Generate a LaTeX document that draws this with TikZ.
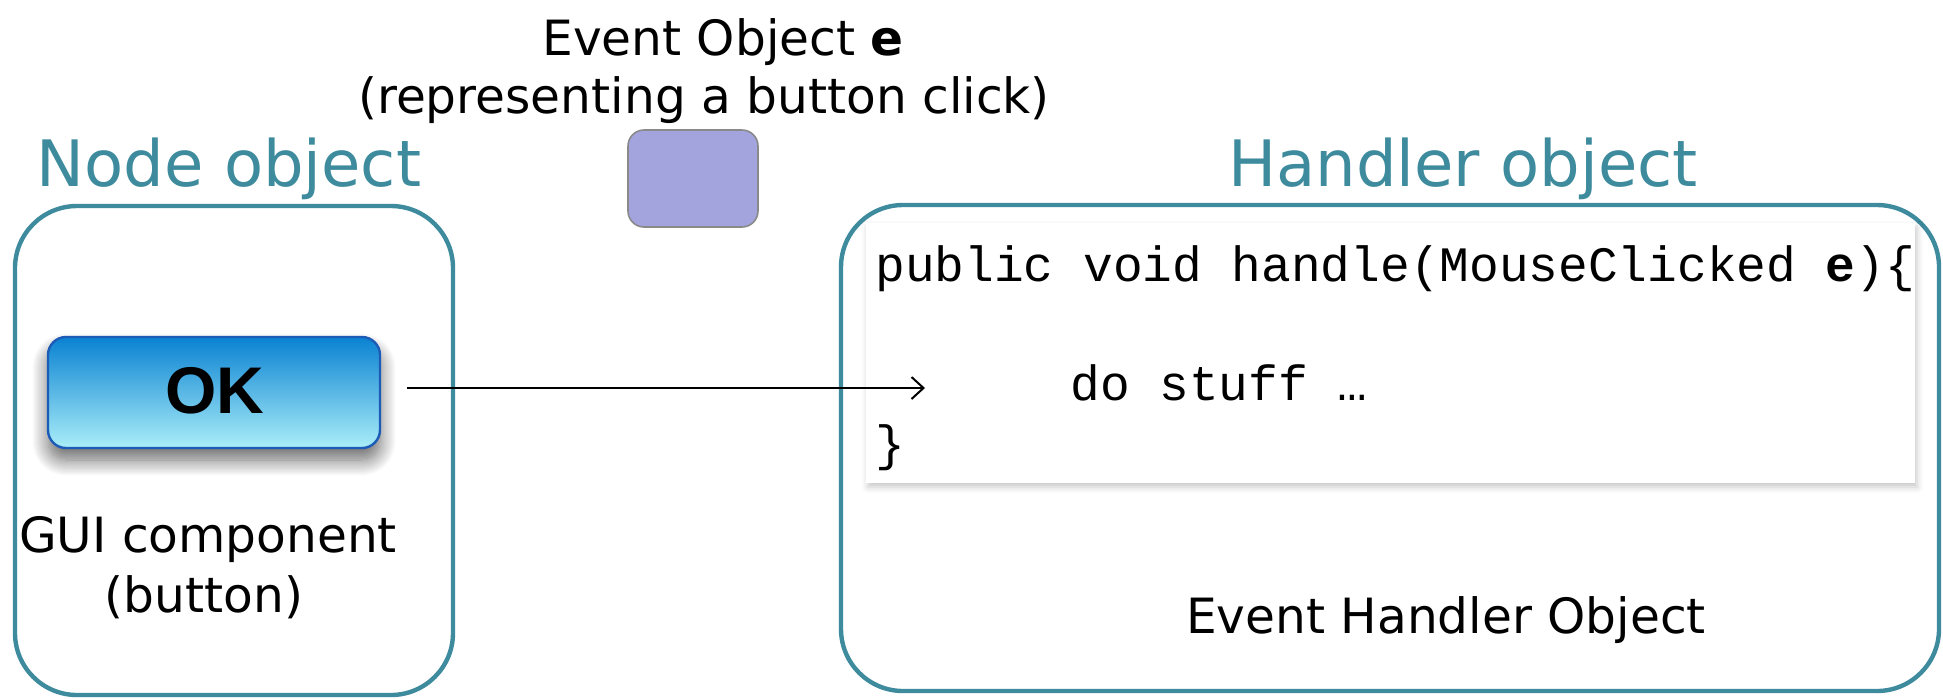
\documentclass[tikz,border=0pt]{standalone}
\usepackage{fontspec}
\setmainfont{DejaVu Sans}
\newfontfamily\codefont{Liberation Mono}
\newfontfamily\btnfont{Liberation Sans}
\usetikzlibrary{arrows.meta,shadows.blur}
\definecolor{objteal}{HTML}{3E8B9E}
\definecolor{evtfill}{HTML}{A3A3DE}
\definecolor{evtline}{HTML}{8A8A8A}
\definecolor{btntop}{HTML}{0A82D2}
\definecolor{btnbot}{HTML}{AAEEF8}
\definecolor{btnline}{HTML}{1C5CB6}
\tikzset{
  objbox/.style={draw=objteal, line width=2.2pt, rounded corners=31pt, inner sep=0pt},
  title/.style={text=objteal, font=\fontsize{32}{38}\selectfont, anchor=base, inner sep=0pt},
  label/.style={font=\fontsize{24.3}{29}\selectfont, anchor=base, inner sep=0pt},
  code/.style={font=\codefont\fontsize{24.75}{30}\selectfont, anchor=base west, inner sep=0pt},
  codebox/.style={fill=white, inner sep=0pt,
    blur shadow={shadow xshift=1pt, shadow yshift=-2pt, shadow blur radius=3pt, shadow opacity=22}},
  eventbox/.style={draw=evtline, fill=evtfill, line width=0.8pt, rounded corners=8pt, inner sep=0pt},
  okbutton/.style={draw=btnline, line width=1.2pt, rounded corners=9pt, top color=btntop, bottom color=btnbot,
    inner sep=0pt, blur shadow={shadow xshift=0pt, shadow yshift=-6pt, shadow blur radius=8pt,
    shadow blur steps=16, shadow opacity=60}},
  flow/.style={draw=black, line width=1pt, -{Straight Barb[length=6pt,width=11pt,line width=1pt]}}
}
\begin{document}
\begin{tikzpicture}[x=0.5pt, y=-0.5pt]
\useasboundingbox (0,0) rectangle (1943,698);

% titles above the two objects
\node[title] (ntitle) at (229,186) {Node object};
\node[title] (htitle) at (1463,186) {Handler object};

% the event object
\node[label] (evt1) at (723,55) {Event Object \textbf{e}};
\node[label] (evt2) at (704,113) {(representing a button click)};
\node[eventbox, minimum width=65pt, minimum height=48.5pt] (evt) at (693,178.5) {};

% node object with its button
\node[objbox, minimum width=219pt, minimum height=244.5pt] (nodeobj) at (234,450.5) {};
\node[okbutton, minimum width=166pt, minimum height=55.5pt] (ok) at (214,392.5) {};
\node[anchor=base, inner sep=0pt, font=\btnfont\bfseries\fontsize{33}{40}\selectfont] (oktext) at (215,413) {OK};
\node[label] (gui1) at (208,552) {GUI component};
\node[label] (gui2) at (204,612) {(button)};

% handler object with its code
\node[objbox, minimum width=549pt, minimum height=243pt] (handobj) at (1390,448) {};
\node[codebox, minimum width=524.5pt, minimum height=130pt] (codebg) at (1390.5,353) {};
\node[code] (line1) at (875,281) {public void handle(MouseClicked \textbf{e})\{};
\node[code] (line2) at (1070,400) {do stuff …};
\node[code] (line3) at (875,460) {\}};
\node[label] (ehobj) at (1446,633) {Event Handler Object};

% the click travels from the button into the handler
\coordinate (dst) at (925,388);
\draw[flow, shorten <=13pt] (ok.east |- dst) -- (dst);
\end{tikzpicture}
\end{document}
